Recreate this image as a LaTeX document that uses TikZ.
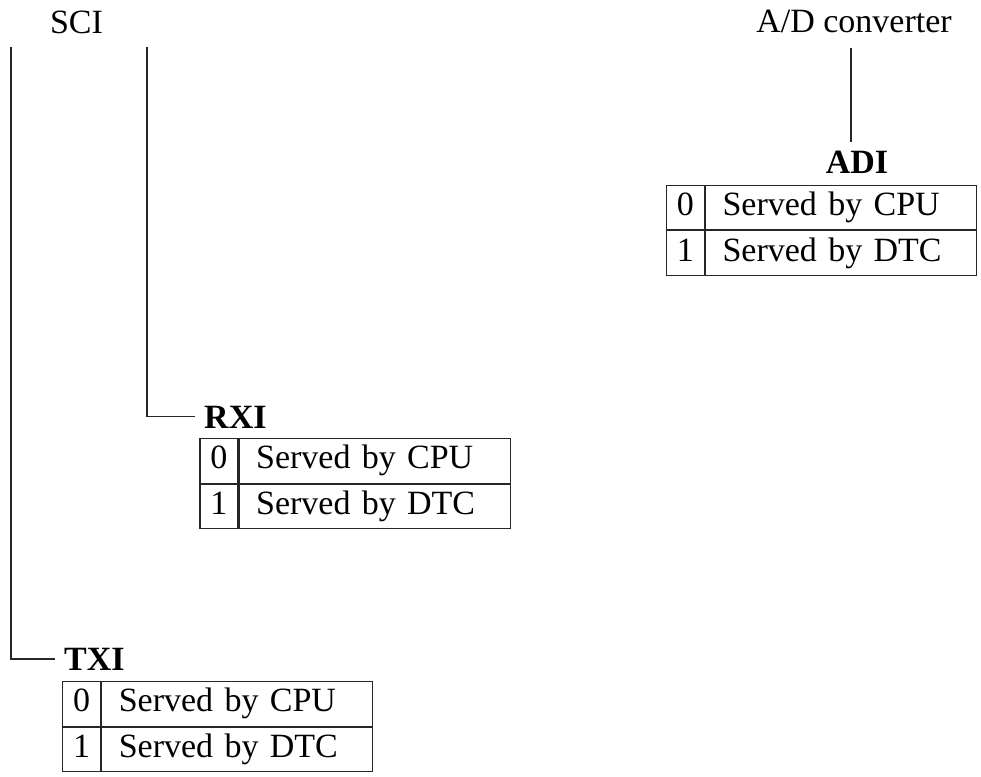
\documentclass[tikz,border=0pt]{standalone}
\usepackage{fontspec}
\setmainfont{Liberation Serif}
\begin{document}
\begin{tikzpicture}[x=1pt,y=-1pt,
  lbl/.style={font=\fontsize{34pt}{40pt}\selectfont, inner sep=0pt},
  ttl/.style={font=\fontsize{34pt}{40pt}\selectfont\bfseries, inner xsep=9pt, inner ysep=8pt, text height=23pt, text depth=0pt},
  numcell/.style={draw=black!85, line width=1.2pt, font=\fontsize{34pt}{40pt}\selectfont, inner sep=0pt, minimum width=38pt, minimum height=44.5pt, text height=24pt, text depth=8pt, anchor=north west},
  txtcell/.style={draw=black!85, line width=1.2pt, font=\fontsize{34pt}{40pt}\selectfont, inner xsep=17pt, inner ysep=0pt, text width=237pt, align=left, minimum height=44.5pt, text height=24pt, text depth=8pt, anchor=north west},
  conn/.style={draw=black!85, line width=1.2pt}
]
\useasboundingbox (0,0) rectangle (981,776);

% top labels
\node[lbl, anchor=base] (sci) at (76.5,33.3) {SCI};
\node[lbl, anchor=base] (adc) at (854,33) {A/D converter};

% connector free ends
\coordinate (sciA) at (11,47);
\coordinate (sciB) at (147,47);
\coordinate (adcB) at (851,48);

% titles
\node[ttl, anchor=base west] (txi) at (55,670.5) {TXI};
\node[ttl, anchor=base west] (rxi) at (195,428) {RXI};
\node[ttl, anchor=base] (adi) at (857,173.5) {ADI};

% TXI table
\node[numcell] (txi0n) at (62,681) {0};
\node[txtcell] (txi0t) at (txi0n.north east) {Served by CPU};
\node[numcell] (txi1n) at (txi0n.south west) {1};
\node[txtcell] (txi1t) at (txi1n.north east) {Served by DTC};

% RXI table
\node[numcell] (rxi0n) at (199.3,438) {0};
\node[txtcell] (rxi0t) at (rxi0n.north east) {Served by CPU};
\node[numcell] (rxi1n) at (rxi0n.south west) {1};
\node[txtcell] (rxi1t) at (rxi1n.north east) {Served by DTC};

% ADI table
\node[numcell] (adi0n) at (665.7,184.5) {0};
\node[txtcell] (adi0t) at (adi0n.north east) {Served by CPU};
\node[numcell] (adi1n) at (adi0n.south west) {1};
\node[txtcell] (adi1t) at (adi1n.north east) {Served by DTC};

% connectors
\draw[conn] (sciA) |- (txi.west);
\draw[conn] (sciB) |- (rxi.west);
\draw[conn] (adcB) -- (adcB |- adi.north);
\end{tikzpicture}
\end{document}
